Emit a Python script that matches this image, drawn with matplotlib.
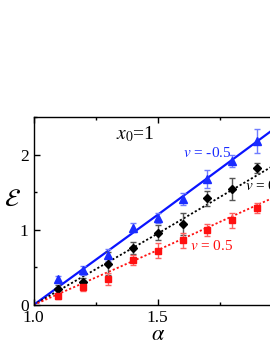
import matplotlib
matplotlib.use("Agg")
import matplotlib.pyplot as plt
from matplotlib.ticker import MultipleLocator

plt.rcParams['font.family'] = ['Liberation Serif', 'DejaVu Serif']
plt.rcParams['mathtext.fontset'] = 'stix'

# Data
alpha = [1.1, 1.2, 1.3, 1.4, 1.5, 1.6, 1.7, 1.8, 1.9]
E_neg = [0.34, 0.46, 0.66, 1.03, 1.16, 1.41, 1.67, 1.92, 2.18]
err_neg = [0.05, 0.06, 0.08, 0.06, 0.07, 0.08, 0.12, 0.08, 0.16]
E_zero = [0.21, 0.30, 0.55, 0.76, 0.96, 1.08, 1.42, 1.54, 1.82]
err_zero = [0.06, 0.06, 0.15, 0.08, 0.10, 0.15, 0.10, 0.15, 0.07]
E_pos = [0.12, 0.24, 0.34, 0.60, 0.72, 0.86, 1.00, 1.13, 1.29]
err_pos = [0.04, 0.05, 0.08, 0.07, 0.10, 0.10, 0.08, 0.10, 0.06]

theory_alpha = [1.0, 1.5, 2.0]
theory_neg = [0.0, 1.20, 2.42]
theory_zero = [0.0, 0.95, 1.92]
theory_pos = [0.0, 0.73, 1.48]

xtick_vals = [1.0, 1.5, 2.0]
xtick_labels = ['1.0', '1.5', '']

fig = plt.figure(figsize=(2.70, 3.49), dpi=100)
ax = fig.add_axes([33.5/270, 44/349, (282-33.5)/270, 188/349])

ax.plot(theory_alpha, theory_neg, color='#0a14ff', lw=1.6, ls='-')
ax.plot(theory_alpha, theory_zero, color='black', lw=1.3, ls=(0, (1.2, 1.2)))
ax.plot(theory_alpha, theory_pos, color='#ff1010', lw=1.3, ls=(0, (1.2, 1.2)))

ax.errorbar(alpha, E_neg, yerr=err_neg, fmt='^', color='#1a2cff', ms=5.5,
            ecolor='#6f7cff', elinewidth=1, capsize=2.5, capthick=1)
ax.errorbar(alpha, E_zero, yerr=err_zero, fmt='D', color='black', ms=4,
            ecolor='#555555', elinewidth=1, capsize=2.5, capthick=1)
ax.errorbar(alpha, E_pos, yerr=err_pos, fmt='s', color='#ff1010', ms=4.5,
            ecolor='#ff6060', elinewidth=1, capsize=2.5, capthick=1)

ax.set_xlim(1.0, 2.0)
ax.set_ylim(0, 2.5)
ax.set_xticks(xtick_vals)
ax.set_xticklabels(xtick_labels)
ax.xaxis.set_minor_locator(MultipleLocator(0.25))
ax.yaxis.set_major_locator(MultipleLocator(1))
ax.yaxis.set_minor_locator(MultipleLocator(0.5))
ax.tick_params(which='both', direction='in', top=True, right=True, labelsize=12.5, width=1)
ax.tick_params(which='major', length=4)
ax.tick_params(which='minor', length=2.5)
for s in ax.spines.values():
    s.set_linewidth(1.0)

ax.set_xlabel(r'$\alpha$', fontsize=16, labelpad=0)
ax.set_ylabel(r'$\mathcal{E}$', fontsize=18, rotation=0, labelpad=8)
ax.yaxis.set_label_coords(-0.085, 0.5)

ax.text(1.33, 2.27, r'$x_0$=1', fontsize=14, ha='left', va='center')
ax.text(1.60, 2.02, r'$v$ = -0.5', fontsize=11, color='#1a2cff', ha='left', va='center')
ax.text(1.85, 1.58, r'$v$ = 0', fontsize=11, color='black', ha='left', va='center')
ax.text(1.63, 0.78, r'$v$ = 0.5', fontsize=11, color='#ff1010', ha='left', va='center')

fig.savefig('out.png', dpi=100)
